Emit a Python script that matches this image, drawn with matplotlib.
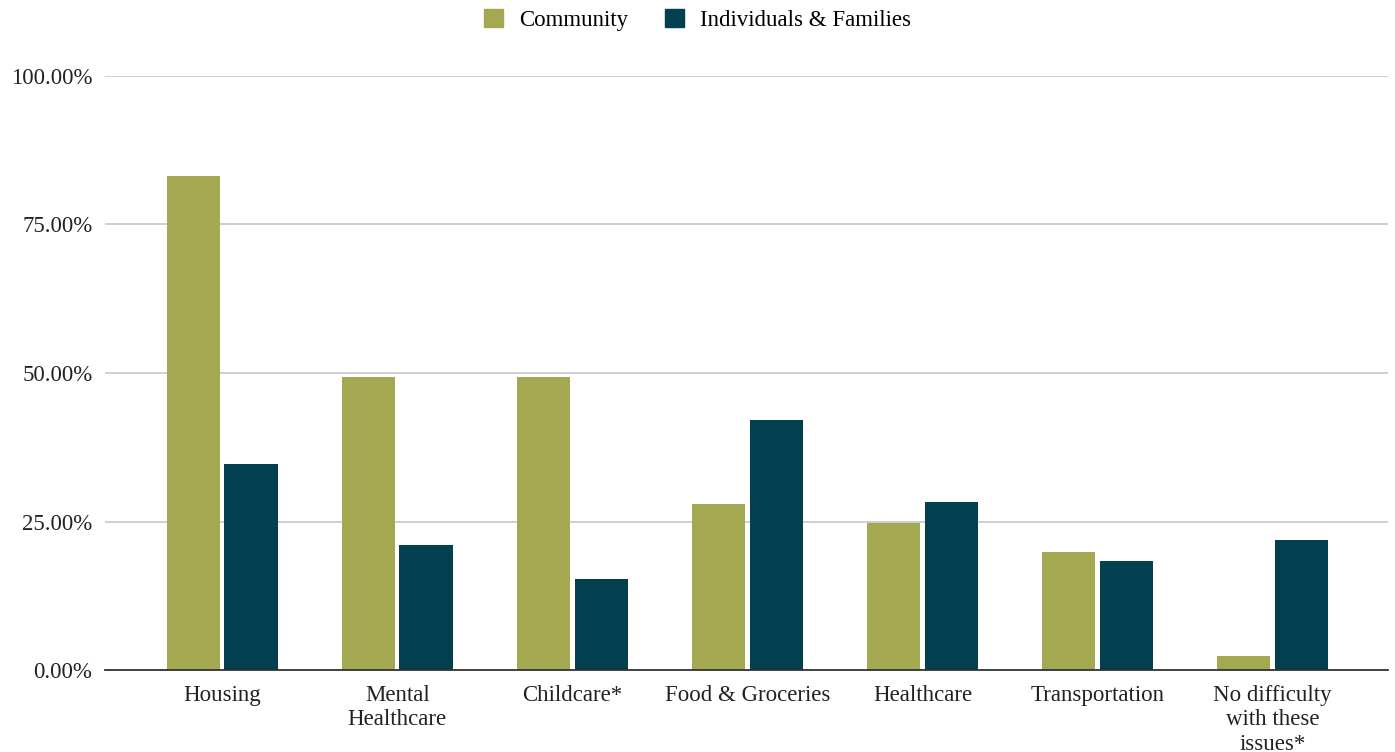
import matplotlib
matplotlib.use("Agg")
import matplotlib.pyplot as plt
import numpy as np
from matplotlib.patches import Patch

categories = ["Housing", "Mental\nHealthcare", "Childcare*", "Food & Groceries",
              "Healthcare", "Transportation", "No difficulty\nwith these\nissues*"]
community = [83.2, 49.4, 49.4, 27.9, 24.7, 19.9, 2.4]
individuals = [34.7, 21.0, 15.3, 42.1, 28.3, 18.4, 21.9]
yticks = [0, 25, 50, 75, 100]

olive = "#a3a851"
teal = "#023f4f"

plt.rcParams['font.family'] = ['Liberation Serif', 'DejaVu Serif']

fig = plt.figure(figsize=(13.95, 7.52), dpi=100)
ax = fig.add_axes([105/1395, 82/752, (1388-105)/1395, (670-76)/752])

x = np.arange(len(categories))
w = 0.305
ax.bar(x - 0.165, community, w, color=olive, zorder=3)
ax.bar(x + 0.165, individuals, w, color=teal, zorder=3)

ax.set_xlim(-0.67, 6.66)
ax.set_ylim(0, 100)
ax.set_yticks(yticks)
ax.set_yticklabels(["%.2f%%" % v for v in yticks], fontsize=16.5, color="#222222")
ax.set_xticks(x)
ax.set_xticklabels(categories, fontsize=16.5, color="#222222", linespacing=1.2, va="top")
ax.tick_params(axis="both", length=0)
ax.tick_params(axis="y", pad=9)
ax.tick_params(axis="x", pad=11)

ax.grid(axis="y", color="#cccccc", linewidth=1.3, zorder=0)
for s in ["top", "right", "left"]:
    ax.spines[s].set_visible(False)
ax.spines["bottom"].set_color("#333333")
ax.spines["bottom"].set_linewidth(1.3)
ax.spines["bottom"].set_zorder(4)

handles = [Patch(color=olive, label="Community"), Patch(color=teal, label="Individuals & Families")]
fig.legend(handles=handles, loc="center", bbox_to_anchor=(0.5, 1 - 20/752), ncol=2,
           frameon=False, fontsize=16.5, handlelength=0.85, handleheight=0.85,
           handletextpad=0.7, columnspacing=1.6)

fig.savefig("out.png", dpi=100)
